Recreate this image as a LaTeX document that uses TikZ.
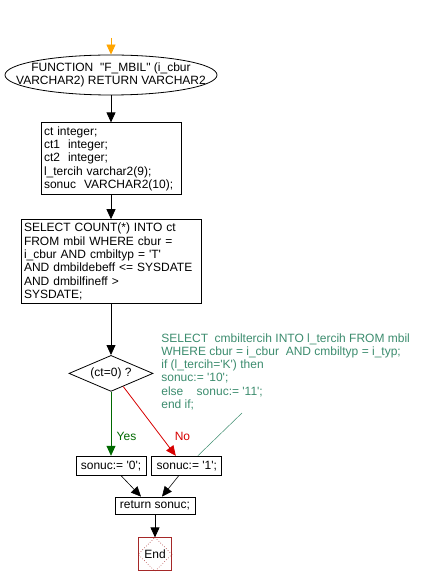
\documentclass[tikz,border=0pt]{standalone}
\usepackage{fontspec}
\newfontfamily\flowfont{Liberation Sans}[Ligatures=TeXOff]
\usetikzlibrary{positioning, shapes.geometric, arrows.meta}
\definecolor{startorange}{RGB}{255,165,0}
\definecolor{yesgreen}{RGB}{0,105,0}
\definecolor{nored}{RGB}{215,0,0}
\definecolor{notegreen}{RGB}{60,140,110}
\definecolor{endred}{RGB}{165,40,40}

\begin{document}
\begin{tikzpicture}[x=1pt, y=-1pt,
          font = \flowfont\fontsize{12}{13.3}\selectfont,
             > = {Triangle[length=10pt, width=9pt]},
    line width = 0.8pt,
     box/.style = {rectangle, draw, inner xsep=3pt, inner ysep=2pt, align=left},
    func/.style = {ellipse, draw, minimum width=212pt, minimum height=40pt, inner sep=0pt},
     dec/.style = {diamond, draw, aspect=2.3, minimum width=84pt, minimum height=36pt, inner sep=0pt},
    sbox/.style = {box, align=center, minimum width=70pt, minimum height=19pt, inner sep=0pt},
  endbox/.style = {rectangle, draw=endred, minimum size=33pt, inner sep=0pt},
    note/.style = {text=notegreen, align=left, inner sep=0pt, anchor=north west}
                        ]
\useasboundingbox (0,0) rectangle (424,585);
\coordinate (start) at (111,38);
\node (fn) [func] at (111,75) {};
\node at (fn) [align=center] {FUNCTION\ \ "F\_MBIL" (i\_cbur\\VARCHAR2) RETURN VARCHAR2};
\node (decl) [box, below=27pt of fn, minimum width=140pt, text width=134pt, minimum height=72pt]
    {ct integer;\\ct1\ \ integer;\\ct2\ \ integer;\\l\_tercih varchar2(9);\\sonuc\ \ VARCHAR2(10);};
\node (sel) [box, below=24pt of decl, minimum width=180pt, text width=174pt, minimum height=84pt]
    {SELECT COUNT(*) INTO ct\\FROM mbil WHERE cbur =\\i\_cbur AND cmbiltyp = 'T'\\AND dmbildebeff <= SYSDATE\\AND dmbilfineff >\\SYSDATE;};
\node (cond) [dec, below=51pt of sel] {(ct=0) ?};
\node (s0) [sbox, below=64pt of cond] {sonuc:= '0';};
\node (s1) [sbox, right=5pt of s0] {sonuc:= '1';};
\node (ret) [box, align=center, minimum width=80pt, minimum height=17pt, inner sep=0pt] at (155,505.5) {return sonuc;};
\node (end) [endbox, below=23pt of ret] {End};
\draw[endred, line width=0.6pt, dotted] (end.north) -- (end.east) -- (end.south) -- (end.west) -- cycle;
\node (txt) [note] at (161,333)
    {SELECT\ \ cmbiltercih INTO l\_tercih FROM mbil\\WHERE cbur = i\_cbur\ \ AND cmbiltyp = i\_typ;\\if (l\_tercih='K') then\\sonuc:= '10';\\else\ \ \ \ sonuc:= '11';\\end if;};
\coordinate (txtend) at (242,413);
% connectors
\draw[->, startorange] (start) -- (fn.north);
\draw[->] (fn) -- (decl);
\draw[->] (decl) -- (sel);
\draw[->] (sel) -- (cond);
\draw[->, yesgreen] (cond.south) -- node[pos=0.7, right=2pt] {Yes} (s0.north);
\draw[->, nored] (cond.-47) -- node[pos=0.72, right=10pt] {No} ([xshift=-11pt]s1.north);
\draw[notegreen, line width=0.5pt] ([xshift=11pt]s1.north) -- (txtend);
\draw[->, line width=0.6pt] ([xshift=10pt]s0.south) -- ([xshift=-14pt]ret.north);
\draw[->, line width=0.6pt] ([xshift=-8pt]s1.south) -- ([xshift=7pt]ret.north);
\draw[->] (ret) -- (end);
\end{tikzpicture}
\end{document}
